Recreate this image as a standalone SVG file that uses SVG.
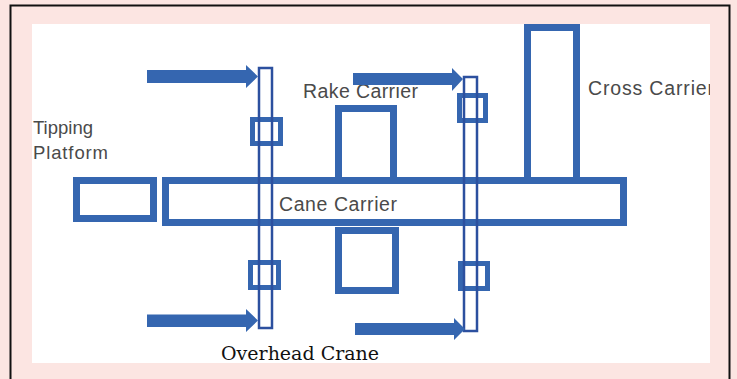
<svg xmlns="http://www.w3.org/2000/svg" width="737" height="379" viewBox="0 0 737 379">
<style>
.box{fill:none;stroke:#3566b0;stroke-width:7}
.sq{fill:none;stroke:#3566b0;stroke-width:5}
.rail{fill:none;stroke:#2c509f;stroke-width:2.5}
.arrow{fill:#3566b0}
.lbl{font-family:"Liberation Sans",Arial,sans-serif;font-size:19.5px;fill:#4a4a4a}
.cap{font-family:"DejaVu Serif","Liberation Serif",serif;font-size:19px;fill:#111}
</style>
<defs>
<clipPath id="pic"><rect x="32" y="24" width="678" height="339"/></clipPath>
</defs>
<rect x="0" y="0" width="737" height="379" fill="#fce5e2"/>
<rect x="10.5" y="5.5" width="719" height="390" fill="none" stroke="#111" stroke-width="2"/>
<rect x="32" y="24" width="678" height="339" fill="#fff"/>
<g clip-path="url(#pic)">
<g id="cross-carrier"><rect class="box" x="527.5" y="27.5" width="49" height="153"/>
<text class="lbl" x="588" y="95" textLength="126" lengthAdjust="spacing">Cross Carrier</text></g>
<g id="tipping-platform"><rect class="box" x="76.5" y="180.5" width="77" height="38"/>
<text class="lbl" x="33" y="134" style="font-size:18.5px" textLength="60" lengthAdjust="spacing">Tipping</text>
<text class="lbl" x="33" y="159" style="font-size:18.5px" textLength="75" lengthAdjust="spacing">Platform</text></g>
<g id="cane-carrier"><rect class="box" x="165.5" y="180.5" width="458" height="42"/>
<text class="lbl" x="279" y="211" textLength="118" lengthAdjust="spacing">Cane Carrier</text></g>
<g id="rake-carrier"><rect class="box" x="338.5" y="108.5" width="55" height="72"/>
<rect class="box" x="338.5" y="230.5" width="57" height="60"/>
<text class="lbl" x="303" y="98" textLength="115" lengthAdjust="spacing">Rake Carrier</text></g>
<g id="crane-1"><rect class="sq" x="252.5" y="119.5" width="28" height="24"/>
<rect class="sq" x="250.5" y="262.5" width="28" height="25"/>
<rect class="rail" x="259" y="68" width="13" height="260"/></g>
<g id="crane-2"><rect class="sq" x="459.5" y="95.5" width="26" height="25"/>
<rect class="sq" x="460.5" y="263.5" width="27" height="25"/>
<rect class="rail" x="464" y="77" width="13" height="254"/></g>
<g id="connectors">
<path class="arrow" d="M147 70H246V65L258 76.5L246 88V83H147Z"/>
<path class="arrow" d="M353 73H452V68L463 79L452 91V85H353Z"/>
<path class="arrow" d="M147 314.5H246V309L258 320.5L246 332V327H147Z"/>
<path class="arrow" d="M355 323H454V318L465 329L454 340V335H355Z"/>
</g>
</g>
<text class="cap" x="221" y="360">Overhead Crane</text>
</svg>
